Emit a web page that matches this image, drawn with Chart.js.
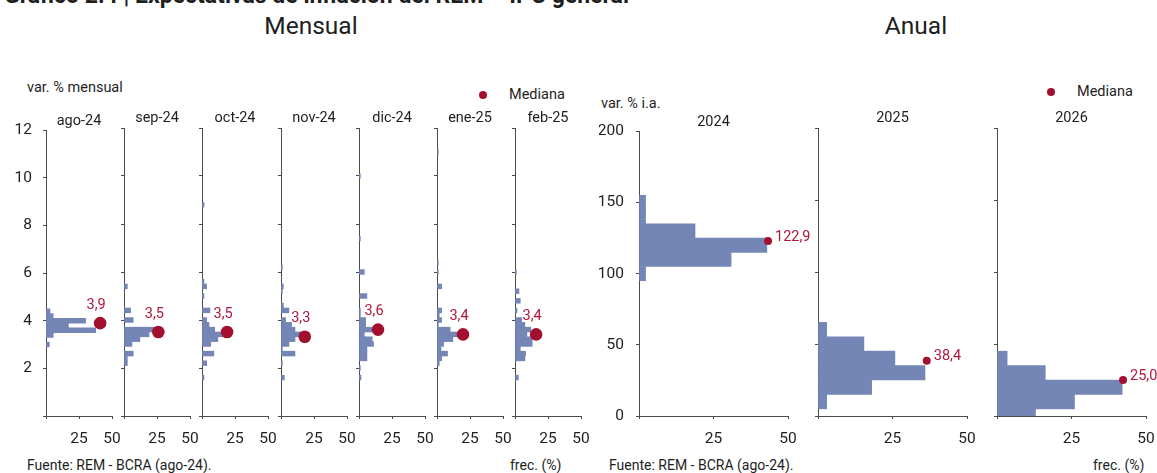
<!DOCTYPE html>
<html><head><meta charset="utf-8">
<script src="https://cdn.jsdelivr.net/npm/chart.js@4/dist/chart.umd.min.js"></script>
<style>
html,body{margin:0;padding:0}
body{width:1157px;height:473px;position:relative;overflow:hidden;background:#fff;font-family:Roboto,"Noto Sans",sans-serif;color:#1e1e1e}
.t{position:absolute;white-space:nowrap;line-height:1}
.dot{position:absolute;width:8px;height:8px;border-radius:50%;background:#a3102f}
canvas{position:absolute}
</style></head><body>
<div class="t" style="left:4px;top:-16px;font-size:23px;font-weight:bold">Gráfico 2.4 | Expectativas de inflación del REM – IPC general</div>
<div class="t" style="left:211px;width:200px;text-align:center;top:14px;font-size:24.5px">Mensual</div>
<div class="t" style="left:816px;width:200px;text-align:center;top:14px;font-size:24.5px">Anual</div>
<div class="t" style="left:27px;top:81px;font-size:14.5px">var. % mensual</div>
<div class="dot" style="left:479px;top:91px"></div>
<div class="t" style="left:509px;top:88px;font-size:14.5px">Mediana</div>
<div class="t" style="left:601px;top:97px;font-size:14.5px">var. % i.a.</div>
<div class="dot" style="left:1047px;top:88px"></div>
<div class="t" style="left:1077px;top:85px;font-size:14.5px">Mediana</div>
<div class="t" style="left:27px;top:458px;font-size:14px">Fuente: REM - BCRA (ago-24).</div>
<div class="t" style="left:510px;top:458px;font-size:14px">frec. (%)</div>
<div class="t" style="left:609px;top:458px;font-size:14px">Fuente: REM - BCRA (ago-24).</div>
<div class="t" style="left:1093px;top:458px;font-size:14px">frec. (%)</div>
<script>
// ---- Monthly expectations (var. % mensual), histogram bins (centre) and frequency (%) ----
const monthLabels = ['ago-24','sep-24','oct-24','nov-24','dic-24','ene-25','feb-25'];
const monthMedians = [3.9, 3.5, 3.5, 3.3, 3.6, 3.4, 3.4];
const monthMedianFreq = [41, 26, 19, 18, 14.4, 19.7, 16];
const agoBins = [4.4, 4.2, 4.0, 3.8, 3.6, 3.4, 3.0];
const agoFreq = [3, 5.5, 30, 17, 37.6, 5.5, 2.5];
const sepBins = [5.4, 4.4, 4.0, 3.6, 3.4, 3.2, 3.0, 2.6, 2.4, 2.2];
const sepFreq = [2.5, 5, 7, 23.5, 19, 12, 6, 7, 2.5, 2.5];
const octBins = [8.8, 5.6, 5.4, 5.0, 4.4, 4.0, 3.8, 3.6, 3.4, 3.2, 3.0, 2.6, 2.2, 1.6];
const octFreq = [1.5, 1.5, 3.5, 1.5, 6, 3.5, 5.3, 9.6, 16, 12, 6.6, 9, 3.5, 1.5];
const novBins = [6.2, 5.4, 5.2, 4.6, 4.4, 4.0, 3.8, 3.6, 3.4, 3.2, 3.0, 2.8, 2.6, 2.2, 1.6];
const novFreq = [1, 1.8, 1, 1.8, 6, 3.5, 8, 10.6, 15, 10.6, 6, 1, 10.6, 1, 2.5];
const dicBins = [10.0, 7.4, 6.0, 5.0, 4.4, 4.2, 4.0, 3.8, 3.6, 3.4, 3.2, 3.0, 2.8, 2.6, 2.4, 2.0, 1.6];
const dicFreq = [1, 1, 4, 6, 1, 1, 5, 5, 11, 4, 10, 11, 6, 6, 6, 1, 1.5];
const eneBins = [11.0, 6.4, 6.0, 5.4, 4.4, 4.2, 4.0, 3.8, 3.6, 3.4, 3.2, 3.0, 2.8, 2.6, 2.4, 2.2];
const eneFreq = [1, 1, 1, 3.5, 3.5, 1.7, 3.5, 1, 10, 16.5, 12, 5, 3, 8, 3.5, 1.7];
const febBins = [6.0, 5.2, 4.8, 4.4, 4.0, 3.8, 3.6, 3.4, 3.2, 3.0, 2.8, 2.6, 2.4, 1.6];
const febFreq = [1, 3, 4, 1.5, 5, 7.5, 12, 9, 13, 13, 4, 8, 7.5, 2.5];
const monthBins = [agoBins, sepBins, octBins, novBins, dicBins, eneBins, febBins];
const monthFreqs = [agoFreq, sepFreq, octFreq, novFreq, dicFreq, eneFreq, febFreq];
const monthTicksY = [0, 12, 2];

// ---- Annual expectations (var. % i.a.) ----
const yearLabels = ['2024', '2025', '2026'];
const yearMedians = [122.9, 38.4, 25.0];
const yearMedianFreq = [43.3, 36.5, 42.3];
const bins2024 = [150, 140, 130, 120, 110, 100];
const freq2024 = [2.2, 2.2, 18.8, 42.9, 30.9, 2.2];
const bins2025 = [60, 50, 40, 30, 20, 10];
const freq2025 = [2.9, 15.4, 25.8, 35.9, 18, 2.9];
const bins2026 = [40, 30, 20, 10, 0];
const freq2026 = [3.4, 16.2, 42, 26, 12.9];
const yearBins = [bins2024, bins2025, bins2026];
const yearFreqs = [freq2024, freq2025, freq2026];
const yearTicksY = [0, 200, 50];
const freqTicks = [0, 50, 25];

// ---- styles ----
const BAR = '#7486b6', DOT = '#a3102f', LBL = '#b0173c', AX = '#4a4a4a', TXT = '#1e1e1e';
Chart.defaults.font.family = 'Roboto, "Noto Sans", sans-serif';
Chart.defaults.color = TXT;

const medLabel = {
  id: 'medLabel',
  afterDatasetsDraw(chart, args, opts) {
    const meta = chart.getDatasetMeta(1);
    const ds = chart.data.datasets[1];
    const ctx = chart.ctx;
    ctx.save();
    ctx.font = opts.size + 'px Roboto, "Noto Sans", sans-serif';
    ctx.fillStyle = LBL;
    meta.data.forEach((pt, i) => {
      const txt = ds.data[i].y.toFixed(1).replace('.', ',');
      if (opts.side === 'top') {
        ctx.textAlign = 'center'; ctx.textBaseline = 'middle';
        ctx.fillText(txt, pt.x - 4, pt.y - 18);
      } else {
        ctx.textAlign = 'left'; ctx.textBaseline = 'middle';
        ctx.fillText(txt, pt.x + 7, pt.y - 4);
      }
    });
    ctx.restore();
  }
};

function makePanel(opt) {
  const c = document.createElement('canvas');
  c.width = opt.w; c.height = opt.h;
  c.style.left = opt.left + 'px'; c.style.top = opt.top + 'px';
  document.body.appendChild(c);
  const data = opt.bins.map((b, i) => ({x: opt.freqs[i], y: b}));
  new Chart(c, {
    type: 'bar',
    data: {
      datasets: [
        {type: 'bar', indexAxis: 'y', data, backgroundColor: BAR, borderWidth: 0,
         barPercentage: 1, categoryPercentage: 1, clip: 0, order: 1},
        {type: 'scatter', data: [{x: opt.medFreq, y: opt.median}], backgroundColor: DOT,
         borderWidth: 0, pointRadius: opt.r, pointHoverRadius: opt.r, clip: false, order: 0}
      ]
    },
    options: {
      indexAxis: 'y', responsive: false, animation: false, devicePixelRatio: 1,
      layout: {padding: {left: 0, right: opt.padR, top: 0, bottom: 0}},
      events: [],
      plugins: {
        legend: {display: false}, tooltip: {enabled: false},
        title: {display: true, text: opt.title, fullSize: false, color: TXT,
                font: {size: 14.5, weight: 'normal'}, padding: {top: 0, bottom: 0.6}},
        medLabel: {side: opt.side, size: opt.lblSize}
      },
      scales: {
        x: {type: 'linear', min: freqTicks[0], max: freqTicks[1], offset: false,
            border: {display: true, color: AX, width: 1},
            grid: {display: true, drawOnChartArea: false, drawTicks: true, tickLength: 3, color: AX},
            ticks: {stepSize: freqTicks[2], padding: 11, font: {size: 15.5}, color: TXT, maxRotation: 0,
                    callback: v => v === 0 ? '' : v},
            afterFit: s => { s.height = 30; }},
        y: {type: 'linear', min: opt.yt[0], max: opt.yt[1], offset: false,
            border: {display: true, color: AX, width: 1},
            grid: {display: true, offset: false, drawOnChartArea: false, drawTicks: true, tickLength: 3, color: AX},
            ticks: {display: opt.showY, stepSize: opt.yt[2], padding: opt.yPad, font: {size: 15.5}, color: TXT,
                    callback: v => (v === 0 && !opt.showZero) ? '' : v},
            afterFit: s => { s.width = 40; }}
      }
    },
    plugins: [medLabel]
  });
}

monthLabels.forEach((lab, i) => {
  const axisX = 46 + i * 78.17;
  makePanel({left: axisX - 40, top: 110, w: 40 + 66 + 30, h: 336, padR: 30,
    bins: monthBins[i], freqs: monthFreqs[i], median: monthMedians[i], medFreq: monthMedianFreq[i],
    title: lab, r: 6.3, side: 'top', lblSize: 14.5, yt: monthTicksY, showY: i === 0, showZero: false, yPad: 11});
});
yearLabels.forEach((lab, i) => {
  const axisX = 639 + i * 179;
  makePanel({left: axisX - 40, top: 110, w: 40 + 149 + 45, h: 336, padR: 45,
    bins: yearBins[i], freqs: yearFreqs[i], median: yearMedians[i], medFreq: yearMedianFreq[i],
    title: lab, r: 4, side: 'right', lblSize: 14.5, yt: yearTicksY, showY: i === 0, showZero: true, yPad: 12});
});
</script>
</body></html>
